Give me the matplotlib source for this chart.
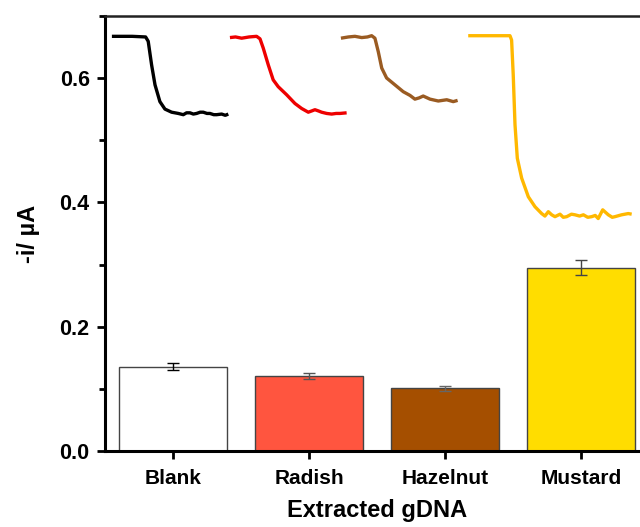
import matplotlib
matplotlib.use('Agg')
import matplotlib.pyplot as plt
from matplotlib import rcParams
from matplotlib.ticker import MultipleLocator

rcParams['font.family'] = ['Liberation Sans', 'DejaVu Sans']
rcParams['font.weight'] = 'bold'
rcParams['xtick.direction'] = 'out'
rcParams['ytick.direction'] = 'out'

# bar data
samples = ['Blank', 'Radish', 'Hazelnut', 'Mustard']
current = [0.136, 0.121, 0.101, 0.295]
current_err = [0.005, 0.005, 0.004, 0.012]
bar_colors = ['white', '#FF553F', '#A54F00', '#FFDD00']
err_colors = ['black', '#555555', '#666666', '#444444']

# amperometric traces drawn above the bars (x in category units, y in uA)
blank_x = [-0.449, -0.30, -0.201, -0.182, -0.157, -0.132, -0.096, -0.059, -0.010,
           0.039, 0.076, 0.100, 0.125, 0.150, 0.174, 0.200, 0.223, 0.250, 0.272,
           0.300, 0.321, 0.358, 0.385, 0.407]
blank_y = [0.667, 0.667, 0.666, 0.659, 0.621, 0.589, 0.562, 0.550, 0.545,
           0.543, 0.541, 0.544, 0.544, 0.542, 0.543, 0.545, 0.545, 0.543, 0.543,
           0.541, 0.541, 0.542, 0.540, 0.542]

radish_x = [0.419, 0.46, 0.505, 0.56, 0.615, 0.640, 0.664, 0.701, 0.737, 0.774,
            0.836, 0.897, 0.946, 0.995, 1.020, 1.044, 1.070, 1.093, 1.130, 1.167,
            1.200, 1.228, 1.277]
radish_y = [0.665, 0.666, 0.664, 0.666, 0.667, 0.663, 0.648, 0.621, 0.597, 0.586,
            0.573, 0.559, 0.551, 0.545, 0.547, 0.549, 0.547, 0.545, 0.543, 0.542,
            0.543, 0.543, 0.544]

hazel_x = [1.235, 1.290, 1.338, 1.388, 1.430, 1.461, 1.485, 1.510, 1.535, 1.571,
           1.632, 1.693, 1.743, 1.779, 1.810, 1.840, 1.890, 1.951, 2.013, 2.061,
           2.093]
hazel_y = [0.664, 0.666, 0.667, 0.665, 0.666, 0.668, 0.664, 0.642, 0.616, 0.600,
           0.589, 0.578, 0.572, 0.566, 0.568, 0.571, 0.566, 0.563, 0.565, 0.562,
           0.564]

mustard_x = [2.171, 2.30, 2.40, 2.478, 2.490, 2.502, 2.515, 2.532, 2.564, 2.613,
             2.662, 2.711, 2.735, 2.760, 2.785, 2.809, 2.846, 2.870, 2.895, 2.930,
             2.956, 2.990, 3.018, 3.050, 3.079, 3.105, 3.127, 3.160, 3.201, 3.230,
             3.250, 3.299, 3.348, 3.373]
mustard_y = [0.668, 0.668, 0.668, 0.668, 0.661, 0.605, 0.525, 0.471, 0.439, 0.409,
             0.393, 0.382, 0.378, 0.385, 0.380, 0.377, 0.381, 0.376, 0.377, 0.381,
             0.380, 0.378, 0.380, 0.376, 0.377, 0.379, 0.374, 0.388, 0.380, 0.376,
             0.377, 0.380, 0.382, 0.381]

traces = [(blank_x, blank_y, 'black'),
          (radish_x, radish_y, '#EE0000'),
          (hazel_x, hazel_y, '#9A5B22'),
          (mustard_x, mustard_y, '#FFB800')]

fig = plt.figure(figsize=(6.4, 5.27), dpi=100)
ax = fig.add_axes([0.164, 0.144, 0.850, 0.826])

pos = list(range(len(samples)))
ax.bar(pos, current, width=0.8, color=bar_colors, edgecolor='#444444',
       linewidth=1.0, zorder=2)
for i in pos:
    ax.errorbar(i, current[i], yerr=current_err[i], fmt='none',
                ecolor=err_colors[i], elinewidth=1.0, capsize=4, capthick=1.0,
                zorder=3)

for tx, ty, c in traces:
    ax.plot(tx, ty, '-', color=c, linewidth=2.4, solid_capstyle='butt', zorder=4)

ax.set_xlim(-0.5, 3.5)
ax.set_ylim(0, 0.70)
ax.set_xticks(pos)
ax.set_xticklabels(samples, fontsize=15, fontweight='bold')
ax.yaxis.set_major_locator(MultipleLocator(0.2))
ax.yaxis.set_minor_locator(MultipleLocator(0.1))
ax.set_yticks([0.0, 0.2, 0.4, 0.6])
ax.set_yticklabels(['0.0', '0.2', '0.4', '0.6'], fontsize=15.5, fontweight='bold')

ax.tick_params(axis='both', which='major', length=6, width=2, pad=5)
ax.tick_params(axis='x', which='major', pad=7)
ax.tick_params(axis='y', which='minor', length=4, width=2)
ax.tick_params(axis='x', which='minor', bottom=False)

for s in ['left', 'bottom']:
    ax.spines[s].set_linewidth(2.2)
ax.spines['top'].set_linewidth(1.8)
ax.spines['top'].set_color('#222222')

ax.set_ylabel(u'-i/ \u00b5A', fontsize=17, fontweight='bold', labelpad=14)
ax.set_xlabel('Extracted gDNA', fontsize=17, fontweight='bold', labelpad=8)

plt.savefig('out.png', dpi=100)
